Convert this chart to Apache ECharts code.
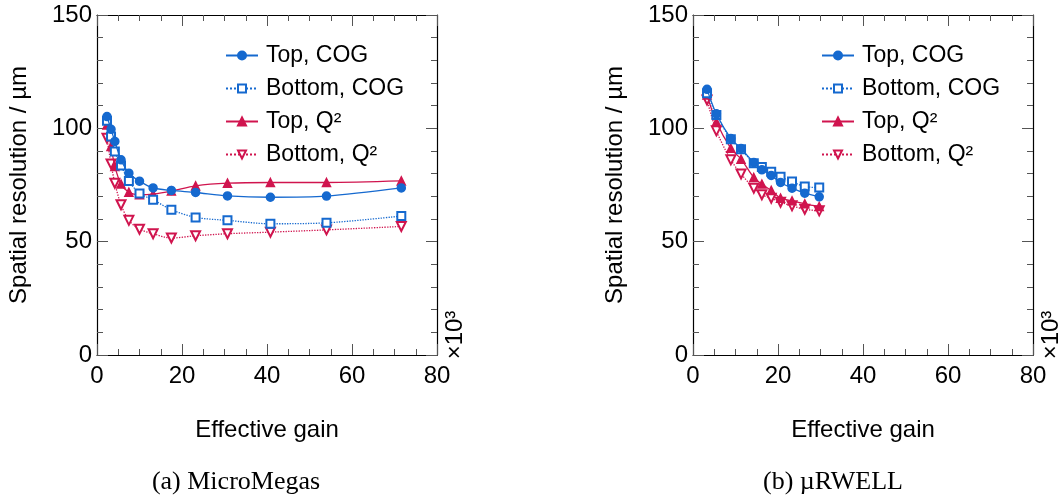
<!DOCTYPE html>
<html>
<head>
<meta charset="utf-8">
<script src="https://cdn.jsdelivr.net/npm/echarts@6/dist/echarts.min.js"></script>
<style>
  html, body { margin: 0; padding: 0; background: #fff; }
  #chart { width: 1064px; height: 499px; }
</style>
</head>
<body>
<div id="chart"></div>
<script>
// effective gain (x10^3) and spatial resolution (um)

// (a) MicroMegas
const mmGain = [2.35, 3.3, 4.2, 5.65, 7.5, 10, 13.2, 17.5, 23.2, 30.7, 40.8, 54, 71.6];
const mmTopCog = [105.2, 99.6, 94.2, 86.1, 80.2, 76.7, 73.7, 72.6, 71.7, 70.2, 69.6, 70.1, 73.7];
const mmBotCog = [103.4, 96.4, 89.8, 83.6, 76.8, 71.3, 68.5, 64.1, 60.7, 59.4, 57.9, 58.3, 61.3];
const mmTopQ2 = [101.5, 92.0, 83.2, 75.4, 71.8, 70.7, 71.0, 72.3, 74.6, 75.8, 76.1, 76.1, 76.8];
const mmBotQ2 = [95.6, 84.3, 75.8, 66.3, 59.4, 55.5, 53.5, 51.6, 52.6, 53.5, 54.2, 55.2, 56.7];

// (b) uRWELL
const rwGain = [3.3, 5.5, 8.9, 11.3, 14.3, 16.2, 18.4, 20.6, 23.3, 26.3, 29.7];
const rwTopCog = [117.2, 106.4, 95.5, 91.1, 84.9, 81.7, 79.2, 76.1, 73.6, 71.4, 69.8];
const rwBotCog = [115.5, 105.9, 95.2, 90.8, 84.6, 82.9, 80.8, 78.6, 76.5, 74.3, 73.9];
const rwTopQ2 = [114.7, 102.8, 91.2, 86.4, 78.3, 75.4, 72.6, 69.2, 68.0, 66.7, 65.5];
const rwBotQ2 = [112.5, 98.9, 86.1, 79.9, 73.6, 70.7, 69.2, 67.4, 65.8, 64.3, 63.6];

const seriesNames = ['Top, COG', 'Bottom, COG', 'Top, Q²', 'Bottom, Q²'];
const panelTitles = ['(a) MicroMegas', '(b) µRWELL'];
const xTitle = 'Effective gain';
const yTitle = 'Spatial resolution / µm';
const xUnit = '×10³';

const BLUE = '#1569cf';
const RED = '#d0144e';
const FONT = 'Liberation Sans, Arial, sans-serif';

const panels = [
  { left: 97, gain: mmGain, ys: [mmTopCog, mmBotCog, mmTopQ2, mmBotQ2], caption: 236 },
  { left: 693, gain: rwGain, ys: [rwTopCog, rwBotCog, rwTopQ2, rwBotQ2], caption: 833 },
];

const styles = [
  { color: BLUE, type: 'solid', symbol: 'circle', size: 8, rotate: 0 },
  { color: BLUE, type: 'dotted', symbol: 'emptyRect', size: 8, rotate: 0 },
  { color: RED, type: 'solid', symbol: 'triangle', size: 8, rotate: 0 },
  { color: RED, type: 'dotted', symbol: 'emptyTriangle', size: 9, rotate: 180 },
];

const grid = [], xAxis = [], yAxis = [], series = [], legend = [], graphic = [];

panels.forEach((p, i) => {
  grid.push({ left: p.left, top: 15, width: 340, height: 340, outerBoundsMode: 'none' });

  const tickStyle = { lineStyle: { color: '#555', width: 1 } };
  // bottom and top x axes
  xAxis.push({
    type: 'value', gridIndex: i, min: 0, max: 80, interval: 20,
    name: xTitle, nameLocation: 'middle', nameGap: 63,
    nameTextStyle: { fontFamily: FONT, fontSize: 24, color: '#000' },
    axisLine: { onZero: false, lineStyle: { color: '#000', width: 1.2 } },
    axisTick: { inside: true, length: 11, ...tickStyle },
    minorTick: { show: true, splitNumber: 4, length: 6, ...tickStyle },
    axisLabel: { fontFamily: FONT, fontSize: 24, color: '#000', margin: 9 },
    splitLine: { show: false },
  });
  xAxis.push({
    type: 'value', gridIndex: i, position: 'top', min: 0, max: 80, interval: 20,
    axisLine: { onZero: false, lineStyle: { color: '#000', width: 1.2 } },
    axisTick: { inside: true, length: 11, ...tickStyle },
    minorTick: { show: true, splitNumber: 4, length: 6, ...tickStyle },
    axisLabel: { show: false },
    splitLine: { show: false },
  });
  // left and right y axes
  yAxis.push({
    type: 'value', gridIndex: i, min: 0, max: 150, interval: 50,
    name: yTitle, nameLocation: 'middle', nameGap: 66, nameRotate: 90,
    nameTextStyle: { fontFamily: FONT, fontSize: 24, color: '#000' },
    axisLine: { onZero: false, lineStyle: { color: '#000', width: 1.2 } },
    axisTick: { inside: true, length: 11, ...tickStyle },
    minorTick: { show: true, splitNumber: 5, length: 6, ...tickStyle },
    axisLabel: { fontFamily: FONT, fontSize: 24, color: '#000', margin: 5 },
    splitLine: { show: false },
  });
  yAxis.push({
    type: 'value', gridIndex: i, position: 'right', min: 0, max: 150, interval: 50,
    axisLine: { onZero: false, lineStyle: { color: '#000', width: 1.2 } },
    axisTick: { inside: true, length: 11, ...tickStyle },
    minorTick: { show: true, splitNumber: 5, length: 6, ...tickStyle },
    axisLabel: { show: false },
    splitLine: { show: false },
  });

  p.ys.forEach((vals, k) => {
    const s = styles[k];
    series.push({
      name: seriesNames[k],
      id: 'p' + i + 's' + k,
      type: 'line',
      xAxisIndex: i * 2, yAxisIndex: i * 2,
      data: p.gain.map((g, j) => [g, vals[j]]),
      smooth: 0.3,
      symbol: s.symbol, symbolSize: s.size, symbolRotate: s.rotate,
      lineStyle: { color: s.color, width: 1.3, type: s.type },
      itemStyle: { color: s.color, borderColor: s.color, borderWidth: 1.5 },
      z: 4 - k,
    });
  });

  legend.push({
    left: p.left + 123, top: 39,
    orient: 'vertical', itemGap: 10, itemWidth: 32, itemHeight: 10,
    data: seriesNames.map((n) => ({ name: n })),
    textStyle: { fontFamily: FONT, fontSize: 23, color: '#000', padding: [0, 0, 0, 3] },
  });

  graphic.push({
    type: 'text', x: p.left + 358, y: 335, rotation: Math.PI / 2,
    style: { text: xUnit, font: '24px ' + FONT, fill: '#000', textAlign: 'center', textVerticalAlign: 'middle' },
  });
  graphic.push({
    type: 'text', x: p.caption, y: 482,
    style: { text: panelTitles[i], font: '26px Liberation Serif, Times New Roman, serif', fill: '#000', textAlign: 'center', textVerticalAlign: 'middle' },
  });
});

const chart = echarts.init(document.getElementById('chart'), null, { renderer: 'canvas' });
chart.setOption({
  animation: false,
  backgroundColor: '#fff',
  grid, xAxis, yAxis, series, legend, graphic,
});
</script>
</body>
</html>
